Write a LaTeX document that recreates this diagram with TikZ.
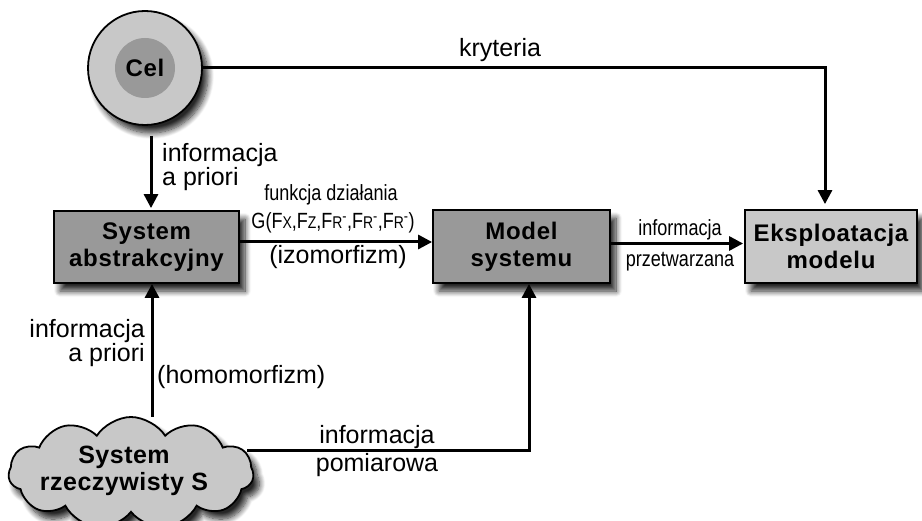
\documentclass[tikz,border=0pt]{standalone}
\usepackage{fontspec}
\setmainfont{Liberation Sans}
\usetikzlibrary{arrows.meta,shapes.symbols,shadows.blur}
\definecolor{darkfill}{HTML}{999999}
\definecolor{lightfill}{HTML}{C8C8C8}
\begin{document}
\begin{tikzpicture}[x=1pt,y=-1pt,
  shadowed/.style={blur shadow={shadow xshift=6pt,shadow yshift=-8pt,shadow blur steps=10,shadow blur radius=6pt,shadow opacity=85}},
  box/.style={draw=black,line width=1.8pt,inner sep=0pt,shadowed,align=center,
    font=\fontsize{24}{27}\selectfont\bfseries\addfontfeature{LetterSpace=3}},
  arr/.style={line width=3pt,-{Triangle[length=14pt,width=14pt]}},
  lbl/.style={font=\fontsize{25}{20}\selectfont,inner sep=0pt},
  narrow/.style={font=\fontsize{22}{22}\selectfont,inner sep=0pt,xscale=0.82},
  sub/.style={}
]
\useasboundingbox (0,0) rectangle (922,521);

% nodes
\node[circle,draw=black,line width=1.8pt,fill=lightfill,minimum size=114pt,shadowed] (cel) at (145,68) {};
\node[circle,fill=darkfill,minimum size=60pt,inner sep=0pt,
  font=\fontsize{24}{24}\selectfont\bfseries\addfontfeature{LetterSpace=3}] (celin) at (145,68) {Cel};

\node[box,fill=darkfill,minimum width=185pt,minimum height=72pt] (abs) at (146.5,247) {System\\abstrakcyjny};
\node[box,fill=darkfill,minimum width=177pt,minimum height=73pt] (model) at (521.5,246.5) {Model\\systemu};
\node[box,fill=lightfill,minimum width=172pt,minimum height=73pt] (eks) at (831,246.5) {Eksploatacja\\modelu};

\node[cloud,cloud puffs=11,cloud puff arc=115,aspect=2.2,draw=black,line width=1.8pt,
  fill=lightfill,minimum width=245pt,minimum height=112pt,inner sep=0pt,shadowed,align=center,
  font=\fontsize{25}{27}\selectfont\bfseries\addfontfeature{LetterSpace=2}] (rs) at (131,473) {};
\node[align=center,inner sep=0pt,
  font=\fontsize{25}{27}\selectfont\bfseries\addfontfeature{LetterSpace=2}] (rst) at (124,471) {System\\rzeczywisty S};

% labels
\node[lbl] (kr) at (500,50) {kryteria};
\node[lbl,anchor=west,align=left] (ap1) at (162,167) {informacja\\a priori};
\node[narrow] (fd) at (331,195) {funkcja działania};
\newcommand{\sm}[1]{{\fontsize{17}{17}\selectfont #1}}
\node[narrow] (gf) at (333,223) {G(F\sm{X},F\sm{Z},F\sm{R}\textsuperscript{-},F\sm{R}\textsuperscript{-},F\sm{R}\textsuperscript{-})};
\node[lbl] (izo) at (338,257) {(izomorfizm)};
\node[narrow] (ip1) at (680,230) {informacja};
\node[narrow] (ip2) at (680,262) {przetwarzana};
\node[lbl,anchor=east,align=right] (ap2) at (145,343) {informacja\\a priori};
\node[lbl,anchor=west] (homo) at (157,377) {(homomorfizm)};
\node[lbl,align=center,font=\fontsize{25}{28}\selectfont] (pom) at (377,451) {informacja\\pomiarowa};

% connectors
\coordinate (k1) at (825,68);
\draw[arr,shorten >=5pt] (cel.east) -- (k1) -- (k1 |- eks.north);
\coordinate (a1) at (151,136);
\draw[arr,shorten >=2pt] (a1) -- (a1 |- abs.north);
\draw[arr] ([yshift=5pt]abs.east) -- ([yshift=5pt]abs.east -| model.west);
\draw[arr,shorten >=1pt] ([yshift=3pt]model.east) -- ([yshift=3pt]model.east -| eks.west);
\coordinate (c1) at (152,417);
\draw[arr] (c1) -- (c1 |- abs.south);
\coordinate (c2) at (247,451);
\coordinate (m1) at (529,451);
\draw[arr] (c2) -- (m1) -- (m1 |- model.south);
\end{tikzpicture}
\end{document}
